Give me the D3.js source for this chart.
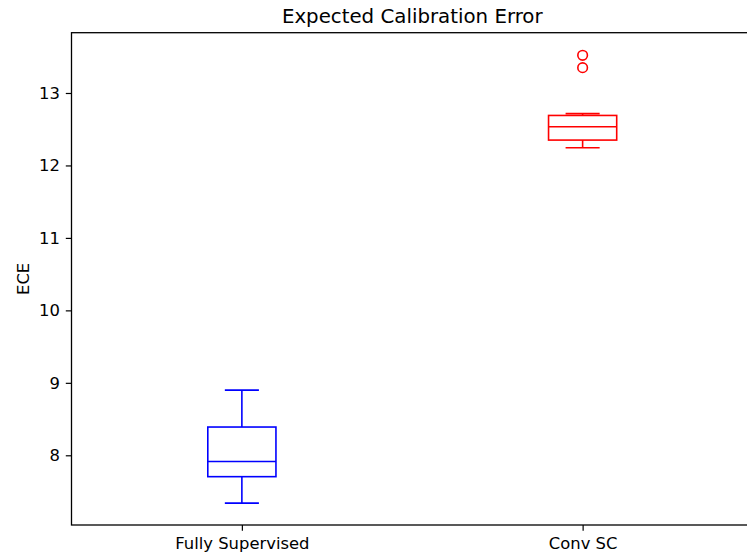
<!DOCTYPE html>
<html>
<head>
<meta charset="utf-8">
<script src="https://cdn.jsdelivr.net/npm/d3@7"></script>
<style>
  html, body { margin: 0; padding: 0; background: #fff; }
  svg { display: block; }
  text { font-family: "DejaVu Sans", sans-serif; fill: #000; }
</style>
</head>
<body>
<svg id="chart" width="747" height="558"></svg>
<script>
// Box-plot summary statistics per model
const categories = ["Fully Supervised", "Conv SC"];
const colors = ["#0000ff", "#ff0000"];
const whiskerLow = [7.34, 12.245];
const q1 = [7.705, 12.35];
const median = [7.915, 12.535];
const q3 = [8.39, 12.69];
const whiskerHigh = [8.9, 12.715];
const outliers = [[], [13.35, 13.52]];
const yTicks = [8, 9, 10, 11, 12, 13];

const svg = d3.select("#chart");
const plotLeft = 71.5, plotRight = 753, plotTop = 32.7, plotBottom = 525;

const x = d3.scaleLinear().domain([0.5, 2.5]).range([plotLeft, plotRight]);
const y = d3.scaleLinear().domain([7.038, 13.832]).range([plotBottom, plotTop]);

const boxW = x(1.1) - x(0.9);
const capW = boxW / 2;

// Axes
const yAxis = svg.append("g")
  .attr("transform", `translate(${plotLeft},0)`)
  .call(d3.axisLeft(y).tickValues(yTicks).tickFormat(d3.format("d")).tickSize(5.7).tickPadding(6));
const xAxis = svg.append("g")
  .attr("transform", `translate(0,${plotBottom})`)
  .call(d3.axisBottom(x).tickValues([1, 2]).tickFormat((d, i) => categories[i]).tickSize(5.7).tickPadding(6.5));

[yAxis, xAxis].forEach(g => {
  g.select(".domain").remove();
  g.selectAll(".tick line").attr("stroke", "#000").attr("stroke-width", 1.2);
  g.selectAll(".tick text").style("font-size", "16.4px").attr("fill", "#000");
});

// Frame (spines)
svg.append("rect")
  .attr("x", plotLeft).attr("y", plotTop)
  .attr("width", plotRight - plotLeft).attr("height", plotBottom - plotTop)
  .attr("fill", "none").attr("stroke", "#000").attr("stroke-width", 1.3);

// Boxes
categories.forEach((c, i) => {
  const cx = x(i + 1);
  const g = svg.append("g")
    .attr("stroke", colors[i]).attr("stroke-width", 1.6).attr("fill", "none");
  // whiskers
  g.append("line").attr("x1", cx).attr("x2", cx).attr("y1", y(q3[i])).attr("y2", y(whiskerHigh[i]));
  g.append("line").attr("x1", cx).attr("x2", cx).attr("y1", y(q1[i])).attr("y2", y(whiskerLow[i]));
  // caps
  g.append("line").attr("x1", cx - capW / 2).attr("x2", cx + capW / 2)
    .attr("y1", y(whiskerHigh[i])).attr("y2", y(whiskerHigh[i]));
  g.append("line").attr("x1", cx - capW / 2).attr("x2", cx + capW / 2)
    .attr("y1", y(whiskerLow[i])).attr("y2", y(whiskerLow[i]));
  // box
  g.append("rect").attr("x", cx - boxW / 2).attr("width", boxW)
    .attr("y", y(q3[i])).attr("height", y(q1[i]) - y(q3[i]));
  // median
  g.append("line").attr("x1", cx - boxW / 2).attr("x2", cx + boxW / 2)
    .attr("y1", y(median[i])).attr("y2", y(median[i]));
  // fliers
  g.selectAll("circle").data(outliers[i]).enter().append("circle")
    .attr("cx", cx).attr("cy", d => y(d)).attr("r", 4.8);
});

// Title and label
svg.append("text")
  .attr("x", (plotLeft + plotRight) / 2).attr("y", 23)
  .attr("text-anchor", "middle").style("font-size", "19.8px")
  .text("Expected Calibration Error");
svg.append("text")
  .attr("transform", `translate(28.5,${(plotTop + plotBottom) / 2}) rotate(-90)`)
  .attr("text-anchor", "middle").style("font-size", "16.4px")
  .text("ECE");
</script>
</body>
</html>
